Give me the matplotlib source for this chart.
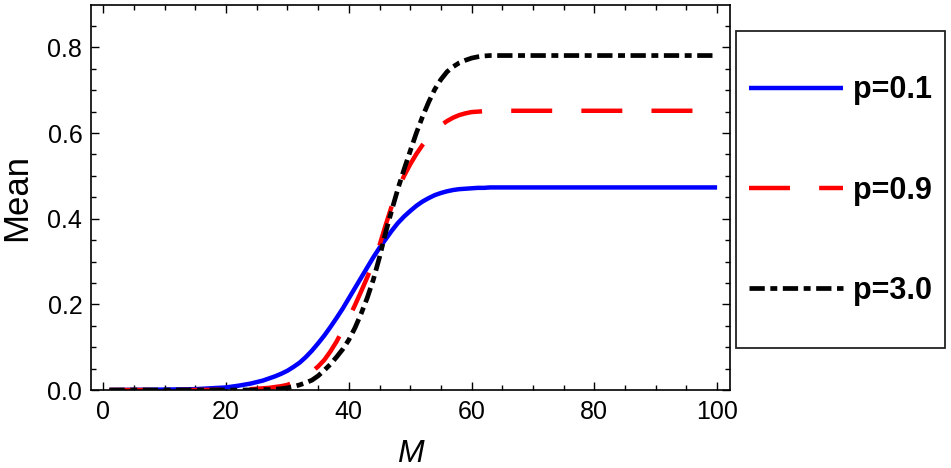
import matplotlib
matplotlib.use("Agg")
import matplotlib.pyplot as plt
from matplotlib.patches import Rectangle
from matplotlib.ticker import MultipleLocator, FormatStrFormatter

plt.rcParams["font.family"] = ["Liberation Sans", "DejaVu Sans"]
plt.rcParams["lines.scale_dashes"] = False

# values
M = [1, 5, 10, 15, 20, 22, 24, 26,
     27, 28, 29, 30, 31, 32, 33, 34, 35, 36, 37, 38, 39, 40, 41, 42, 43, 44, 45,
     46, 47, 48, 49, 50, 51, 52, 53, 54, 55, 56, 57, 58, 59, 60, 61, 62, 63, 64,
     66, 70, 80, 90, 100]
mean_p01 = [0.0, 0.0005, 0.001, 0.002, 0.006, 0.01, 0.015, 0.022,
            0.027, 0.032, 0.038, 0.045, 0.054, 0.064, 0.077, 0.092, 0.109, 0.127,
            0.147, 0.168, 0.19, 0.214, 0.238, 0.262, 0.286, 0.31, 0.332, 0.352,
            0.372, 0.39, 0.405, 0.418, 0.43, 0.44, 0.448, 0.455, 0.46, 0.464,
            0.467, 0.469, 0.47, 0.471, 0.472, 0.472, 0.473, 0.473,
            0.473, 0.473, 0.473, 0.473, 0.473]
mean_p09 = [0.0, 0.0, 0.0, 0.0, 0.0005, 0.001, 0.002, 0.004,
            0.005, 0.007, 0.009, 0.012, 0.018, 0.025, 0.033, 0.043, 0.055, 0.07,
            0.09, 0.113, 0.14, 0.168, 0.198, 0.23, 0.263, 0.298, 0.338, 0.385,
            0.43, 0.468, 0.5, 0.527, 0.551, 0.572, 0.59, 0.605, 0.618, 0.628,
            0.636, 0.642, 0.646, 0.649, 0.65, 0.651, 0.652, 0.652,
            0.652, 0.652, 0.652, 0.652, 0.652]
mean_p30 = [0.0, 0.0, 0.0, 0.0, 0.0, 0.0, 0.0, 0.001,
            0.001, 0.002, 0.003, 0.005, 0.008, 0.012, 0.017, 0.023, 0.033, 0.046,
            0.06, 0.077, 0.095, 0.117, 0.145, 0.178, 0.215, 0.258, 0.31, 0.368,
            0.42, 0.47, 0.515, 0.558, 0.6, 0.638, 0.672, 0.702, 0.725, 0.743,
            0.755, 0.764, 0.77, 0.775, 0.778, 0.78, 0.781, 0.781,
            0.781, 0.781, 0.781, 0.781, 0.781]
labels = ["p=0.1", "p=0.9", "p=3.0"]

W, H = 951, 468
fig = plt.figure(figsize=(W / 100, H / 100), dpi=100)
ax = fig.add_axes([90.7 / W, 1 - 390 / H, (730 - 90.7) / W, (390 - 5) / H])

l1, = ax.plot(M, mean_p01, color="#0000ff", lw=3.2, solid_capstyle="butt",
              solid_joinstyle="round")
l2, = ax.plot(M, mean_p09, color="#ff0000", lw=3.2,
              linestyle=(0, (29.5, 21)), dash_capstyle="butt")
l3, = ax.plot(M, mean_p30, color="black", lw=3.4,
              linestyle=(0, (11, 4, 5, 4)), dash_capstyle="butt")

ax.set_xlim(-2.05, 102.1)
ax.set_ylim(0, 0.899)
ax.xaxis.set_major_locator(MultipleLocator(20))
ax.xaxis.set_minor_locator(MultipleLocator(5))
ax.yaxis.set_major_locator(MultipleLocator(0.2))
ax.yaxis.set_minor_locator(MultipleLocator(0.05))
ax.yaxis.set_major_formatter(FormatStrFormatter("%.1f"))
ax.tick_params(which="both", direction="in", top=True, right=True,
               labeltop=False, labelright=False, width=1, labelsize=18)
ax.tick_params(which="major", length=6)
ax.tick_params(which="minor", length=3.5)
ax.tick_params(axis="y", pad=6)
ax.tick_params(axis="x", pad=7)
for s in ax.spines.values():
    s.set_linewidth(1.2)

ax.set_xlabel("M", fontsize=23, style="italic", labelpad=11)
ax.set_ylabel("Mean", fontsize=25, labelpad=10)

# legend box outside the axes
fig.patches.append(Rectangle((736 / W, 1 - 348 / H), (945 - 736) / W,
                             (348 - 30.7) / H, transform=fig.transFigure,
                             fill=False, edgecolor="#222222", lw=1.3))
fig.legend([l1, l2, l3], labels, loc="center left",
           bbox_to_anchor=(749 / W, 1 - 190.5 / H), frameon=False,
           borderpad=0, borderaxespad=0, handlelength=3.07,
           handletextpad=0.33, labelspacing=2.3,
           prop={"weight": "bold", "size": 22})

plt.savefig("out.png", dpi=100)
